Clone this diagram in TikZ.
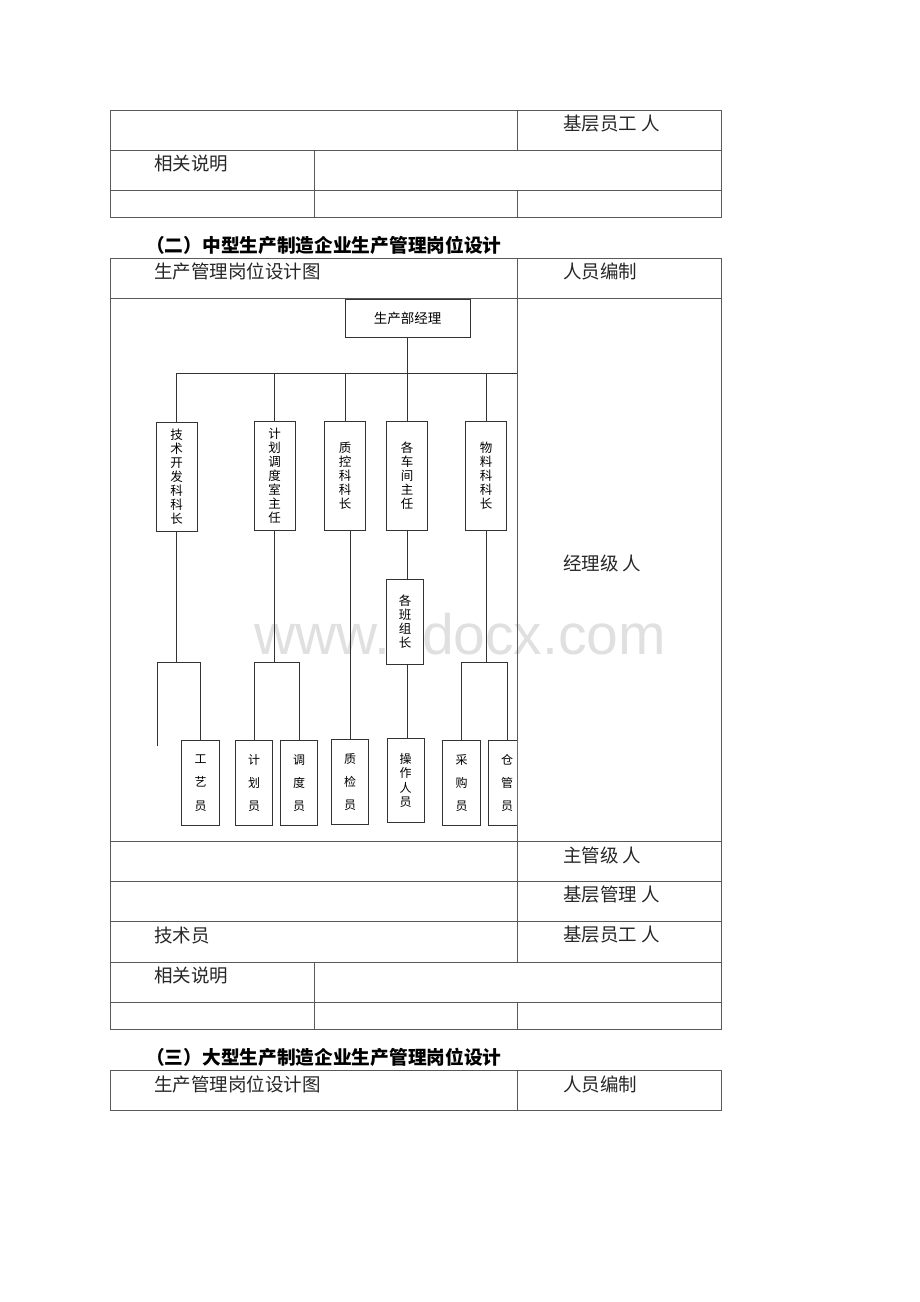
\documentclass[tikz,border=0pt]{standalone}
\usepackage{fontspec}
\newfontfamily\cjk{Noto Sans CJK SC}
\newfontfamily\wmfont{Liberation Sans}

\begin{document}
\begin{tikzpicture}[x=1pt, y=-1pt,
  grid/.style={draw=black!65, line width=0.8pt},
  txt/.style={anchor=west, inner sep=0pt, text=black!85, font=\cjk\fontsize{18.5}{20}\selectfont},
  head/.style={anchor=west, inner sep=0pt, font=\cjk\bfseries\fontsize{18.7}{20}\selectfont},
  post/.style={draw=black!80, fill=white, line width=0.9pt, inner sep=0pt, align=center, minimum width=41pt, minimum height=109pt, font=\cjk\fontsize{12.5}{14}\selectfont},
  staff/.style={post, minimum width=37.5pt, minimum height=85.5pt, font=\cjk\fontsize{12}{23.3}\selectfont},
  link/.style={draw=black!80, line width=0.9pt}]
\useasboundingbox (0,0) rectangle (920,1302);

% watermark
\node[anchor=base west, inner sep=0pt, text=black!12, font=\wmfont\fontsize{57}{60}\selectfont] (wm) at (254,654) {www.bdocx.com};

% first table (end of small company part)
\draw[grid] (110,110) rectangle (721,217);
\draw[grid] (110,150) -- (721,150) (110,190) -- (721,190);
\draw[grid] (517,110) -- (517,150) (314,150) -- (314,217) (517,190) -- (517,217);
\node[txt] (jcyg1) at (563,124) {基层员工 人};
\node[txt] (sm1) at (154,164) {相关说明};

% second table
\node[head] (title2) at (146,245) {（二）中型生产制造企业生产管理岗位设计};
\draw[grid] (110,258) rectangle (721,1029);
\draw[grid] (110,298) -- (721,298) (110,841) -- (721,841) (110,881) -- (721,881)
  (110,921) -- (721,921) (110,962) -- (721,962) (110,1002) -- (721,1002);
\draw[grid] (517,258) -- (517,962) (314,962) -- (314,1029) (517,1002) -- (517,1029);
\node[txt] (tu2) at (154,271) {生产管理岗位设计图};
\node[txt] (bz2) at (563,271) {人员编制};
\node[txt] (jlj) at (563,563) {经理级 人};
\node[txt] (zgj) at (563,855) {主管级 人};
\node[txt] (jcgl) at (563,895) {基层管理 人};
\node[txt] (jsy) at (154,935) {技术员};
\node[txt] (jcyg2) at (563,935) {基层员工 人};
\node[txt] (sm2) at (154,976) {相关说明};

% chart
\begin{scope}
\clip (110,298) rectangle (517,841);
\coordinate (busR) at (517,373);
\coordinate (jline) at (0,662);
\coordinate (loose) at (157,746);

\draw[link] (407.5,337) -- (407.5,373);
\node[post, minimum width=125pt, minimum height=38pt, font=\cjk\fontsize{13.5}{15}\selectfont] (mgr) at (407.5,318) {生产部经理};

\node[post] (jishu) at (176.5,476.5) {技\\术\\开\\发\\科\\科\\长};
\node[post] (jihua) at (274.5,476) {计\\划\\调\\度\\室\\主\\任};
\node[post] (zhikong) at (345,475.5) {质\\控\\科\\科\\长};
\node[post] (chejian) at (407,475.5) {各\\车\\间\\主\\任};
\node[post] (wuliao) at (486,475.5) {物\\料\\科\\科\\长};

\draw[link] (jishu.north) |- (busR);
\draw[link] (jihua.north) -- (jihua.north |- busR);
\draw[link] (zhikong.north) -- (zhikong.north |- busR);
\draw[link] (chejian.north) -- (chejian.north |- busR);
\draw[link] (wuliao.north) -- (wuliao.north |- busR);

\draw[link] (chejian.south) -- (chejian.south |- 0,579.3);
\node[post, minimum width=37pt, minimum height=85pt] (banzu) at (405.2,621.8) {各\\班\\组\\长};

\node[staff] (gongyi) at (200.5,783) {工\\艺\\员};
\node[staff] (jihuay) at (254,783) {计\\划\\员};
\node[staff] (diaodu) at (299,783) {调\\度\\员};
\node[staff] (zhijian) at (350,782) {质\\检\\员};
\node[staff, font=\cjk\fontsize{12}{14.5}\selectfont, minimum height=84.4pt] (caozuo) at (405.7,780.5) {操\\作\\人\\员};
\node[staff] (caigou) at (461.5,783) {采\\购\\员};
\node[staff] (cangguan) at (507,783) {仓\\管\\员};

\draw[link] (jishu.south) -- (jishu.south |- jline);
\draw[link] (loose) |- (gongyi.north |- jline) -- (gongyi.north);
\draw[link] (jihua.south) -- (jihua.south |- jline);
\draw[link] (jihuay.north) |- (diaodu.north |- jline) -- (diaodu.north);
\draw[link] (zhijian.north) -- (zhijian.north |- zhikong.south);
\draw[link] (chejian.south |- banzu.south) -- (chejian.south |- caozuo.north);
\draw[link] (wuliao.south) -- (wuliao.south |- jline);
\draw[link] (caigou.north) |- (cangguan.north |- jline) -- (cangguan.north);
\end{scope}

% third table
\node[head] (title3) at (146,1057) {（三）大型生产制造企业生产管理岗位设计};
\draw[grid] (110,1070) rectangle (721,1110);
\draw[grid] (517,1070) -- (517,1110);
\node[txt] (tu3) at (154,1084) {生产管理岗位设计图};
\node[txt] (bz3) at (563,1084) {人员编制};
\end{tikzpicture}
\end{document}
